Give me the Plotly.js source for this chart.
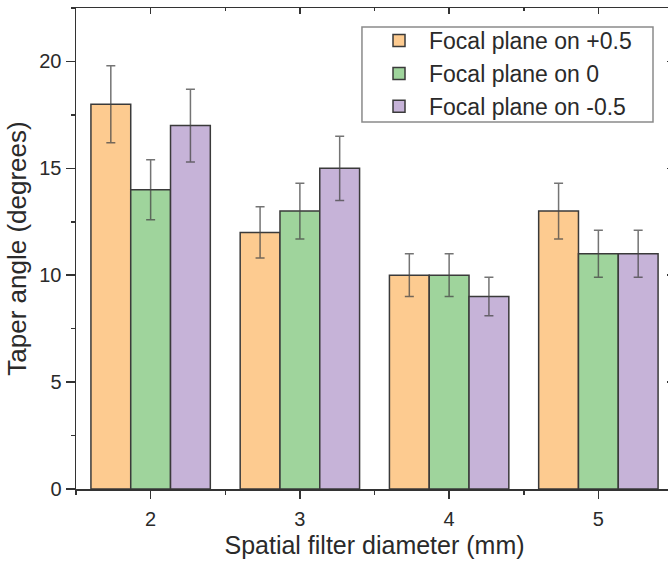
<!DOCTYPE html>
<html>
<head>
<meta charset="utf-8">
<script src="https://cdn.plot.ly/plotly-3.0.1.min.js"></script>
<style>
html, body { margin: 0; padding: 0; overflow: hidden; background: #fff; }
#chart { width: 680px; height: 566px; }
</style>
</head>
<body>
<div id="chart"></div>
<script>
// Data
const diameters = [2, 3, 4, 5];
const seriesNames = ["Focal plane on +0.5", "Focal plane on 0", "Focal plane on -0.5"];
const plusHalf = [18, 12, 10, 13];
const plusHalfErr = [1.8, 1.2, 1.0, 1.3];
const zero = [14, 13, 10, 11];
const zeroErr = [1.4, 1.3, 1.0, 1.1];
const minusHalf = [17, 15, 9, 11];
const minusHalfErr = [1.7, 1.5, 0.9, 1.1];
const tickVals = [2, 3, 4, 5];
const tickText = ["2", "3", "4", "5"];

const colors = ["#FDCB90", "#9FD49C", "#C6B3D8"];
const values = [plusHalf, zero, minusHalf];
const errs = [plusHalfErr, zeroErr, minusHalfErr];

const traces = values.map((v, i) => ({
  type: "bar",
  name: seriesNames[i],
  x: diameters,
  y: v,
  marker: { color: colors[i], line: { color: "#3a3a3a", width: 1.5 } },
  error_y: { type: "data", array: errs[i], visible: true, color: "rgba(70,70,70,0.75)", thickness: 1.5, width: 4.5 },
  hoverinfo: "x+y"
}));
// helper trace so the top/right frame axes (inward ticks) exist
traces.push({ type: "scatter", x: [], y: [], xaxis: "x2", yaxis: "y2", showlegend: false, hoverinfo: "skip" });

const FONT = "Liberation Sans, Arial, sans-serif";
const TICKFONT = { family: FONT, size: 20, color: "#2a2a2a" };
const axisCommon = {
  showline: true, linecolor: "#333", linewidth: 1.5,
  showgrid: false, zeroline: false,
  tickcolor: "#333", tickwidth: 1.5
};

const layout = {
  width: 680, height: 566,
  margin: { l: 76, r: 7, t: 8, b: 77 },
  paper_bgcolor: "#fff", plot_bgcolor: "#fff",
  font: { family: FONT, color: "#2a2a2a" },
  barmode: "group", bargap: 0.2, bargroupgap: 0,
  showlegend: true,
  legend: {
    x: 0.4908, y: 0.977, xanchor: "left", yanchor: "top",
    bgcolor: "rgba(0,0,0,0)", borderwidth: 0,
    font: { size: 23, color: "#2a2a2a" }, itemwidth: 50, tracegroupgap: 0
  },
  // legend frame
  shapes: [{
    type: "rect", xref: "paper", yref: "paper", layer: "below",
    x0: 0.479, x1: 0.9665, y0: 0.763, y1: 0.9605,
    line: { color: "#8a8a8a", width: 1.5 }, fillcolor: "#fff"
  }],
  xaxis: Object.assign({}, axisCommon, {
    range: [1.5, 5.5], tickvals: tickVals, ticktext: tickText,
    tickfont: TICKFONT,
    ticks: "outside", ticklen: 8, ticklabelstandoff: 3,
    minor: { ticks: "outside", ticklen: 4, dtick: 0.5, tick0: 1.5, tickcolor: "#333", tickwidth: 1.5 },
    title: { text: "Spatial filter diameter (mm)", font: { size: 25, color: "#2a2a2a" }, standoff: 8 }
  }),
  yaxis: Object.assign({}, axisCommon, {
    range: [0, 22.5], dtick: 5, tick0: 0,
    tickfont: TICKFONT,
    ticks: "outside", ticklen: 9,
    minor: { ticks: "outside", ticklen: 4, dtick: 2.5, tickcolor: "#333", tickwidth: 1.5 },
    title: { text: "Taper angle (degrees)", font: { size: 26, color: "#2a2a2a" }, standoff: 5 }
  }),
  xaxis2: Object.assign({}, axisCommon, {
    overlaying: "x", side: "top", anchor: "y2", range: [1.5, 5.5], tickvals: tickVals,
    showticklabels: false, ticks: "inside", ticklen: 6,
    minor: { ticks: "inside", ticklen: 3, dtick: 0.5, tick0: 1.5, tickcolor: "#333", tickwidth: 1.5 }
  }),
  yaxis2: Object.assign({}, axisCommon, {
    overlaying: "y", side: "right", anchor: "x2", range: [0, 22.5], dtick: 5, tick0: 0,
    showticklabels: false, ticks: "inside", ticklen: 6,
    minor: { ticks: "inside", ticklen: 3, dtick: 2.5, tickcolor: "#333", tickwidth: 1.5 }
  })
};

Plotly.newPlot("chart", traces, layout, { displayModeBar: false, staticPlot: true });
</script>
</body>
</html>
